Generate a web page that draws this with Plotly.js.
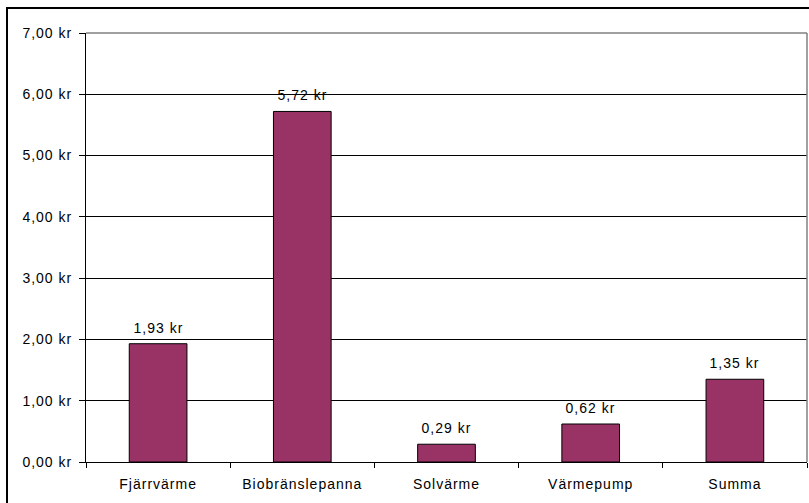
<!DOCTYPE html>
<html>
<head>
<meta charset="utf-8">
<script src="https://cdn.plot.ly/plotly-3.0.1.min.js"></script>
<style>
html,body{margin:0;padding:0;background:#fff;}
#chart{width:809px;height:503px;}
#chart text{letter-spacing:1px;}
</style>
</head>
<body>
<div id="chart"></div>
<script>
const categories = ["Fjärrvärme", "Biobränslepanna", "Solvärme", "Värmepump", "Summa"];
const values = [1.93, 5.72, 0.29, 0.62, 1.35];
const yTicks = [0, 1, 2, 3, 4, 5, 6, 7];

const fmt = v => v.toFixed(2).replace('.', ',') + ' kr';
const FONT = 'Liberation Sans, Arial, sans-serif';

const trace = {
  type: 'bar',
  x: categories,
  y: values,
  width: 0.4,
  marker: {color: '#993366', line: {color: '#000000', width: 1}},
  hoverinfo: 'none'
};

const annotations = categories.map((c, i) => ({
  x: c, y: values[i], xref: 'x', yref: 'y',
  text: fmt(values[i]), showarrow: false,
  yanchor: 'bottom', yshift: 6,
  font: {family: FONT, size: 14, color: '#000'}
}));

const layout = {
  width: 809, height: 503,
  margin: {l: 86, r: 2, t: 33, b: 41, pad: 0},
  paper_bgcolor: '#ffffff', plot_bgcolor: '#ffffff',
  showlegend: false,
  font: {family: FONT, size: 14, color: '#000'},
  xaxis: {
    type: 'category',
    showgrid: false,
    showline: true, linecolor: '#000', linewidth: 1,
    ticks: 'outside', tickson: 'boundaries', ticklen: 5, tickcolor: '#000',
    tickfont: {size: 14},
    ticklabelstandoff: 9,
    zeroline: false,
    fixedrange: true
  },
  yaxis: {
    range: [0, 7],
    tickvals: yTicks,
    ticktext: yTicks.map(fmt),
    showgrid: true, gridcolor: '#000', gridwidth: 1,
    showline: true, linecolor: '#000', linewidth: 1,
    ticks: 'outside', ticklen: 6, tickcolor: '#000',
    tickfont: {size: 14},
    ticklabelstandoff: 4,
    zeroline: false,
    fixedrange: true
  },
  annotations: annotations,
  shapes: [
    {type: 'line', xref: 'paper', yref: 'paper', x0: 0, x1: 1, y0: 1, y1: 1,
     line: {color: '#808080', width: 1.5}},
    {type: 'line', xref: 'paper', yref: 'paper', x0: 1, x1: 1, y0: 0, y1: 1,
     line: {color: '#808080', width: 1.5}},
    {type: 'rect', xref: 'paper', yref: 'paper',
     x0: (7 - 86) / 721, x1: (830 - 86) / 721,
     y0: -0.2, y1: (462 - 8) / 429,
     line: {color: '#000', width: 2}, fillcolor: 'rgba(0,0,0,0)', layer: 'above'}
  ]
};

Plotly.newPlot('chart', [trace], layout, {displayModeBar: false, staticPlot: true});
</script>
</body>
</html>
